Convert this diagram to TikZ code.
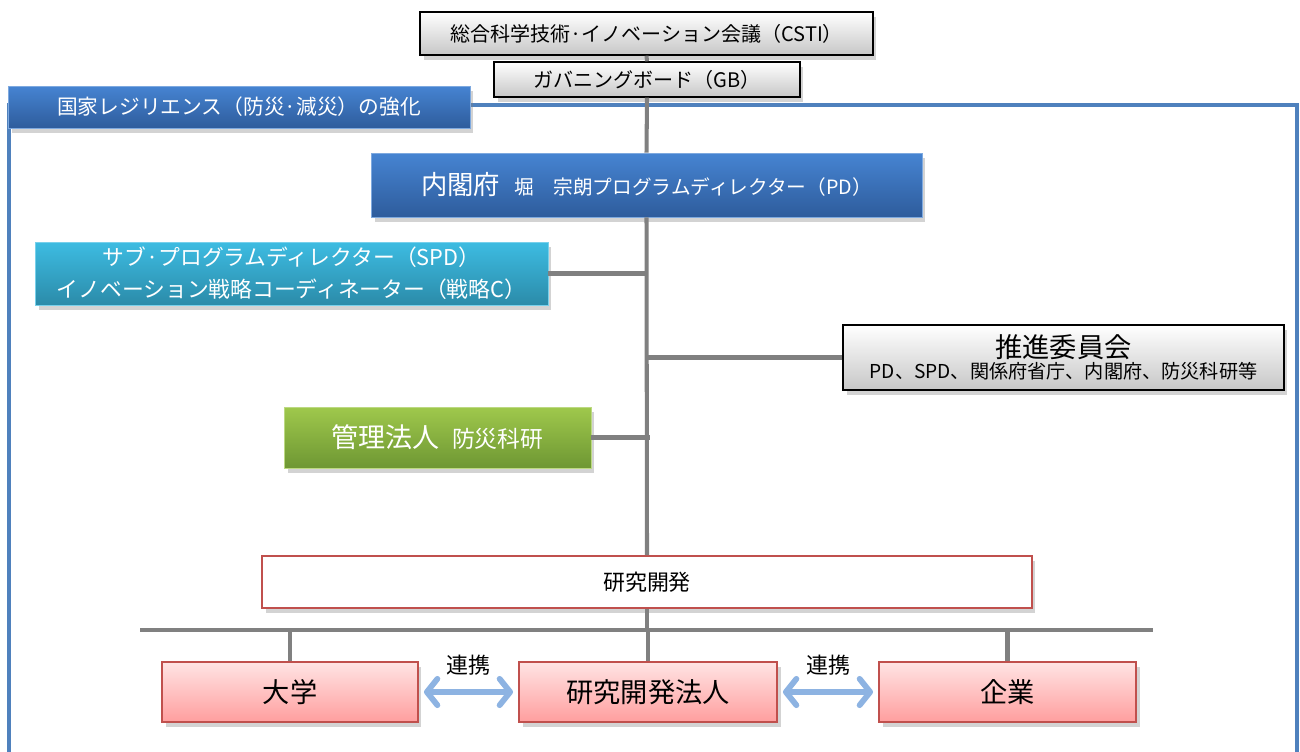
\documentclass[tikz,border=0pt]{standalone}
\usepackage{fontspec}
\setmainfont{Noto Sans CJK JP}
\usepackage{tikz}
\usepackage{tkz-euclide}
\usetikzlibrary{shadows,arrows.meta}

\definecolor{frameblue}{HTML}{4F81BD}
\definecolor{blueA}{HTML}{4684D2}
\definecolor{blueB}{HTML}{2E5C9C}
\definecolor{cyanA}{HTML}{3DBCE2}
\definecolor{cyanB}{HTML}{2B8BA9}
\definecolor{greenA}{HTML}{9FC84C}
\definecolor{greenB}{HTML}{6E9733}
\definecolor{pinkA}{HTML}{FFE4E4}
\definecolor{pinkB}{HTML}{FF9E9E}
\definecolor{redline}{HTML}{C0504D}
\definecolor{trunkgray}{HTML}{808080}
\definecolor{linkblue}{HTML}{8DB3E2}

\begin{document}
\begin{tikzpicture}[x=0.02cm,y=-0.02cm,
    shad/.style={drop shadow={opacity=.35,shadow xshift=2pt,shadow yshift=-3pt}},
    graybox/.style={draw=black,line width=0.8pt,top color=white,bottom color=black!22,shad,inner sep=0pt},
    bluebox/.style={draw=blueA!70!white,line width=0.4pt,top color=blueA,bottom color=blueB,text=white,shad,inner sep=0pt},
    cyanbox/.style={draw=cyanA!70!white,line width=0.4pt,top color=cyanA,bottom color=cyanB,text=white,shad,inner sep=0pt,align=center},
    greenbox/.style={draw=greenA!70!white,line width=0.4pt,top color=greenA,bottom color=greenB,text=white,shad,inner sep=0pt},
    pinkbox/.style={draw=redline,line width=0.8pt,top color=pinkA,bottom color=pinkB,shad,inner sep=0pt,font=\fontsize{15.5}{18}\selectfont},
    trunk/.style={draw=trunkgray,line width=2.3pt},
    link/.style={draw=linkblue,line width=3.3pt,{Straight Barb[length=6pt,width=15pt,round]}-{Straight Barb[length=6pt,width=15pt,round]}}
  ]
  \useasboundingbox (0,0) rectangle (1300,751);
  \draw[frameblue,line width=2.2pt] (9,105) rectangle (1297,770);

  \node[graybox,minimum width=9.06cm,minimum height=0.86cm,font=\fontsize{11.4}{13}\selectfont] (csti) at (646.5,33.5) {総合科学技術·イノベーション会議（CSTI）};
  \node[graybox,minimum width=6.12cm,minimum height=0.70cm,font=\fontsize{11.4}{13}\selectfont] (gb) at (647,79.5) {ガバニングボード（GB）};
  \node[bluebox,minimum width=9.24cm,minimum height=0.84cm,font=\fontsize{11.8}{14}\selectfont] (title) at (239,107) {国家レジリエンス（防災·減災）の強化};
  \node[bluebox,minimum width=11.02cm,minimum height=1.28cm] (pd) at (646.5,185)
    {{\fontsize{15}{18}\selectfont 内閣府}\hspace{0.8em}{\fontsize{11.2}{13}\selectfont 堀　宗朗プログラムディレクター（PD）}};
  \node[cyanbox,minimum width=10.26cm,minimum height=1.26cm,font=\fontsize{12.4}{18}\selectfont] (spd) at (291.5,273.5)
    {サブ·プログラムディレクター（SPD）\\イノベーション戦略コーディネーター（戦略C）};
  \node[graybox,minimum width=8.82cm,minimum height=1.30cm,align=center] (suishin) at (1063.5,357.5)
    {{\fontsize{15.5}{16.5}\selectfont 推進委員会}\\{\fontsize{10.9}{13}\selectfont PD、SPD、関係府省庁、内閣府、防災科研等}};
  \node[greenbox,minimum width=6.14cm,minimum height=1.22cm] (kanri) at (437.5,437.5)
    {{\fontsize{15.4}{18}\selectfont 管理法人}\hspace{0.7em}{\fontsize{13}{15}\selectfont 防災科研}};
  \node[draw=redline,line width=1.1pt,fill=white,shad,minimum width=15.4cm,minimum height=1.04cm,font=\fontsize{12.5}{15}\selectfont] (rd) at (647,582) {研究開発};
  \node[pinkbox,minimum width=5.12cm,minimum height=1.2cm] (daigaku) at (290,692) {大学};
  \node[pinkbox,minimum width=5.16cm,minimum height=1.2cm] (hojin) at (648,692) {研究開発法人};
  \node[pinkbox,minimum width=5.14cm,minimum height=1.2cm] (kigyo) at (1007.5,692) {企業};

  \tkzDefPoints{140/630/L,1153/630/R}
  \draw[trunk] (csti.south) -- (gb.north);
  \draw[trunk] (gb.south) -- (pd.north);
  \draw[trunk] (pd.south) -- (rd.north);
  \draw[trunk] (spd.east) -- (spd.east -| pd.south);
  \draw[trunk] (suishin.west) -- (suishin.west -| pd.south);
  \draw[trunk] (kanri.east) -- ([xshift=2pt]kanri.east -| pd.south);
  \draw[trunk] (L) -- (R);
  \draw[trunk] (rd.south) -- (rd.south |- L);
  \draw[trunk] (daigaku.north |- L) -- (daigaku.north);
  \draw[trunk] (hojin.north |- L) -- (hojin.north);
  \draw[trunk] (kigyo.north |- L) -- (kigyo.north);

  \draw[link] ([xshift=3pt]daigaku.east) -- ([xshift=-3pt]hojin.west)
    node[midway,above=0.16cm,font=\fontsize{12.5}{15}\selectfont] {連携};
  \draw[link] ([xshift=3pt]hojin.east) -- ([xshift=-3pt]kigyo.west)
    node[midway,above=0.16cm,font=\fontsize{12.5}{15}\selectfont] {連携};
\end{tikzpicture}
\end{document}
